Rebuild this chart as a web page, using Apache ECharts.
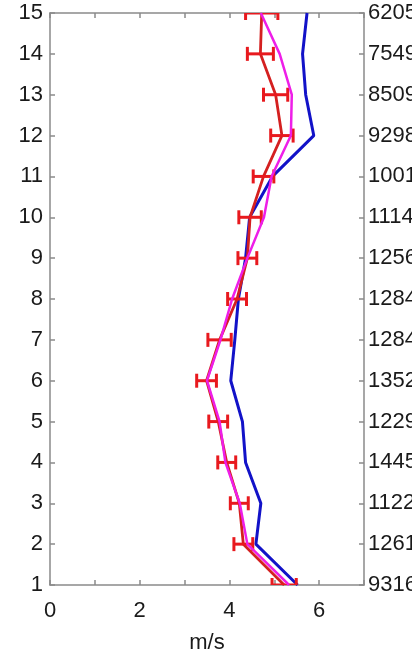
<!DOCTYPE html>
<html>
<head>
<meta charset="utf-8">
<script src="https://cdn.jsdelivr.net/npm/echarts@6/dist/echarts.min.js"></script>
<style>
  html, body { margin: 0; padding: 0; background: #fff; }
  #chart { width: 412px; height: 655px; }
</style>
</head>
<body>
<div id="chart"></div>
<script>
// Vertical levels (1 = bottom, 15 = top)
const levels = [1, 2, 3, 4, 5, 6, 7, 8, 9, 10, 11, 12, 13, 14, 15];

// Sample counts shown on the right-hand axis, one per level
const countLabels = ['9316', '12617', '11223', '14451', '12295', '13521', '12843',
  '12845', '12560', '11144', '10011', '9298', '8509', '7549', '6205'];

// Observed mean speed (m/s) and its error half-width
const obsMean = [5.22, 4.31, 4.22, 3.94, 3.75, 3.49, 3.78, 4.17, 4.40, 4.46, 4.76, 5.17, 5.03, 4.69, 4.72];
const obsErr  = [0.27, 0.21, 0.20, 0.20, 0.21, 0.22, 0.26, 0.21, 0.21, 0.25, 0.23, 0.25, 0.27, 0.29, 0.36];

// Model profiles (m/s)
const magentaSpeed = [5.33, 4.40, 4.23, 3.91, 3.78, 3.50, 3.80, 4.06, 4.40, 4.77, 4.94, 5.37, 5.39, 5.12, 4.70];
const blueSpeed    = [5.52, 4.59, 4.70, 4.36, 4.29, 4.03, 4.12, 4.20, 4.36, 4.45, 4.96, 5.88, 5.70, 5.63, 5.73];

const xTicks = [0, 2, 4, 6];

const axisGrey = '#8a8a8a';
const textCol = '#1a1a1a';
const fontFam = '"Liberation Sans", Arial, Helvetica, sans-serif';

const pairs = (xs) => xs.map((v, i) => [v, levels[i]]);
const errData = obsMean.map((m, i) => [m - obsErr[i], m + obsErr[i], levels[i]]);

const chart = echarts.init(document.getElementById('chart'));

chart.setOption({
  animation: false,
  backgroundColor: '#fff',
  grid: { left: 50, right: 48, top: 13, bottom: 70, containLabel: false, outerBoundsMode: 'none' },
  xAxis: [
    {
      type: 'value', min: 0, max: 7, interval: 1, position: 'bottom',
      name: 'm/s', nameLocation: 'middle', nameGap: 47,
      nameTextStyle: { fontSize: 22, color: textCol, fontFamily: fontFam },
      axisLine: { show: true, onZero: false, lineStyle: { color: axisGrey, width: 1.5 } },
      axisTick: { show: true, inside: true, length: 5, lineStyle: { color: axisGrey, width: 1.5 },
        interval: (idx, v) => xTicks.indexOf(v) >= 0 },
      axisLabel: { fontSize: 22, color: textCol, fontFamily: fontFam, margin: 15,
        formatter: (v) => xTicks.indexOf(v) >= 0 ? String(v) : '' },
      splitLine: { show: false }
    },
    {
      type: 'value', min: 0, max: 7, interval: 1, position: 'top',
      axisLine: { show: true, onZero: false, lineStyle: { color: axisGrey, width: 1.5 } },
      axisTick: { show: true, inside: true, length: 5, lineStyle: { color: axisGrey, width: 1.5 } },
      axisLabel: { show: false },
      splitLine: { show: false }
    }
  ],
  yAxis: [
    {
      type: 'value', min: 1, max: 15, interval: 1, position: 'left',
      axisLine: { show: true, onZero: false, lineStyle: { color: axisGrey, width: 1.5 } },
      axisTick: { show: true, inside: true, length: 5, lineStyle: { color: axisGrey, width: 1.5 } },
      axisLabel: { fontSize: 22, color: textCol, fontFamily: fontFam, margin: 7 },
      splitLine: { show: false }
    },
    {
      type: 'value', min: 1, max: 15, interval: 1, position: 'right',
      axisLine: { show: true, onZero: false, lineStyle: { color: axisGrey, width: 1.5 } },
      axisTick: { show: true, inside: true, length: 5, lineStyle: { color: axisGrey, width: 1.5 } },
      axisLabel: { fontSize: 22, color: textCol, fontFamily: fontFam, margin: 4,
        formatter: (v) => countLabels[Math.round(v) - 1] || '' },
      splitLine: { show: false }
    }
  ],
  series: [
    {
      name: 'blue', type: 'line', data: pairs(blueSpeed),
      xAxisIndex: 0, yAxisIndex: 0, symbol: 'none', clip: true,
      lineStyle: { color: '#1212c8', width: 3 }, z: 2
    },
    {
      name: 'obs', type: 'line', data: pairs(obsMean),
      xAxisIndex: 0, yAxisIndex: 0, symbol: 'none', clip: true,
      lineStyle: { color: '#d42020', width: 2.8 }, z: 3
    },
    {
      name: 'obsErr', type: 'custom', data: errData,
      xAxisIndex: 0, yAxisIndex: 0, clip: true, z: 4,
      encode: { x: [0, 1], y: 2 },
      renderItem: (params, api) => {
        const lo = api.coord([api.value(0), api.value(2)]);
        const hi = api.coord([api.value(1), api.value(2)]);
        const cap = 7;
        const style = { stroke: '#e8191e', lineWidth: 3, fill: null };
        return {
          type: 'group',
          children: [
            { type: 'line', shape: { x1: lo[0], y1: lo[1], x2: hi[0], y2: hi[1] }, style },
            { type: 'line', shape: { x1: lo[0], y1: lo[1] - cap, x2: lo[0], y2: lo[1] + cap }, style },
            { type: 'line', shape: { x1: hi[0], y1: hi[1] - cap, x2: hi[0], y2: hi[1] + cap }, style }
          ]
        };
      }
    },
    {
      name: 'magenta', type: 'line', data: pairs(magentaSpeed),
      xAxisIndex: 0, yAxisIndex: 0, symbol: 'none', clip: true,
      lineStyle: { color: '#ee1ee8', width: 2.5 }, z: 5
    }
  ]
});
</script>
</body>
</html>
